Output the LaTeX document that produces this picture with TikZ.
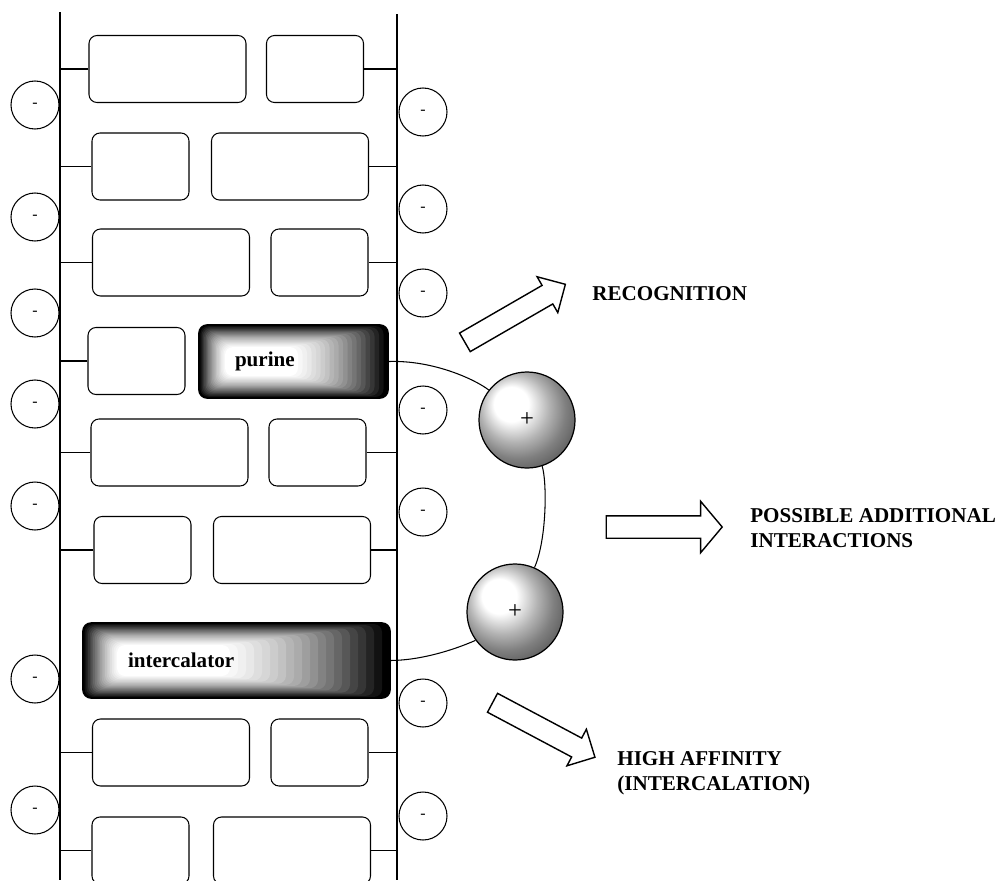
\documentclass[tikz,border=0pt]{standalone}
\usepackage{fontspec}
\setmainfont{Liberation Serif}
\usetikzlibrary{shapes.arrows,calc}
\tikzset{
  strand/.style={line width=1pt},
  link/.style={line width=0.6pt},
  base/.style={draw,line width=0.6pt,rounded corners=1.6mm,fill=white,minimum height=13.4mm,inner sep=0pt},
  phosphate/.style={circle,draw,line width=0.6pt,fill=white,minimum size=9.6mm,inner sep=0pt,font=\fontsize{9}{10}\selectfont},
  cation/.style={circle,draw,line width=0.7pt,shading=ball,ball color=white,minimum size=19.2mm,inner sep=0pt,font=\fontsize{14}{15}\selectfont},
  blockarrow/.style={single arrow,draw,line width=0.8pt,fill=white,inner xsep=0pt,inner ysep=2mm,minimum height=23.2mm,single arrow head extend=2mm},
  caption/.style={font=\fontsize{12}{14}\selectfont\bfseries,align=left,anchor=west,inner sep=0pt},
  dye/.style n args={3}{draw,line width=0.9pt,rounded corners=1.6mm,inner ysep=0pt,align=left,
    font=\fontsize{12}{14}\selectfont\bfseries,
    path picture={
      \foreach \i [evaluate=\i as \p using {int(50*(\i/20+1-(1-\i/20)*(1-\i/20)))}] in {0,...,20}
        \fill[white!\p!black,rounded corners=1.6mm]
          ($(path picture bounding box.south west)+(#1*\i,-#3*\i)$) rectangle
          ($(path picture bounding box.north east)+(-#2*\i,#3*\i)$);
    }}
}
\begin{document}
\begin{tikzpicture}[x=0.2mm,y=-0.2mm]
  \useasboundingbox (0,0) rectangle (1000,880);
  \coordinate (s1top) at (60,12);
  \coordinate (s1end) at (60,880);
  \coordinate (s2top) at (397,14);
  \coordinate (s2end) at (397,880);
  \draw [strand] (s1top) -- (s1end);
  \draw [strand] (s2top) -- (s2end);
  \foreach \n/\y/\lx/\lw/\rx/\rw in {1/69/167.5/31.4/315/19.4, 2/166.5/140.5/19.4/290/31.4,
      3/262.5/171/31.4/319.5/19.4, 5/452.5/169.5/31.4/317.5/19.4, 6/550/142.5/19.4/292/31.4,
      7/752.5/171/31.4/319.5/19.4, 8/850.5/140.5/19.4/292/31.4}
  {
    \node [base,minimum width=\lw mm] (l\n) at (\lx,\y) {};
    \node [base,minimum width=\rw mm] (r\n) at (\rx,\y) {};
    \draw [strand] (l\n.west) -- (l\n.west -| s1top);
    \draw [strand] (r\n.east) -- (r\n.east -| s2top);
  }
  \node [base,minimum width=19.4mm] (l4) at (136.5,361) {};
  \draw [strand] (l4.west) -- (l4.west -| s1top);
  \node [dye={1.3}{4.5}{1.1},minimum height=14.6mm,text width=23.4mm,inner xsep=7.2mm] (purine) at (293.5,361.5) {purine};
  \node [dye={1.7}{8}{1.1},minimum height=15mm,text width=43.4mm,inner xsep=9mm] (intercalator) at (236.5,660.5) {intercalator};
  \foreach \y [count=\k] in {105,217,313,404,506,679,810}
    \node [phosphate] (pl\k) at (35,\y) {-};
  \foreach \y [count=\k] in {112,209,293,410,512,703,816}
    \node [phosphate] (pr\k) at (423,\y) {-};
  \node [cation] (ion1) at (527,420) {+};
  \node [cation] (ion2) at (515,612) {+};
  \draw [link] (purine.east) .. controls (434,360) and (476,380) .. (ion1);
  \draw [link] (ion1) .. controls (547,481) and (547,539) .. (ion2);
  \draw [link] (ion2) .. controls (476,640) and (434,660) .. (intercalator.east);
  \node [blockarrow,rotate=30] (torec) at (510.5,316) {};
  \node [blockarrow,inner ysep=2.1mm,single arrow head extend=2.9mm,single arrow tip angle=100] (toadd) at (659.5,527) {};
  \node [blockarrow,rotate=-28] (tohigh) at (539,727.5) {};
  \node [caption] (rec) at (592,294) {RECOGNITION};
  \node [caption] (add) at (750,528) {POSSIBLE ADDITIONAL\\INTERACTIONS};
  \node [caption] (high) at (617,773) {HIGH AFFINITY\\(INTERCALATION)};
\end{tikzpicture}
\end{document}
